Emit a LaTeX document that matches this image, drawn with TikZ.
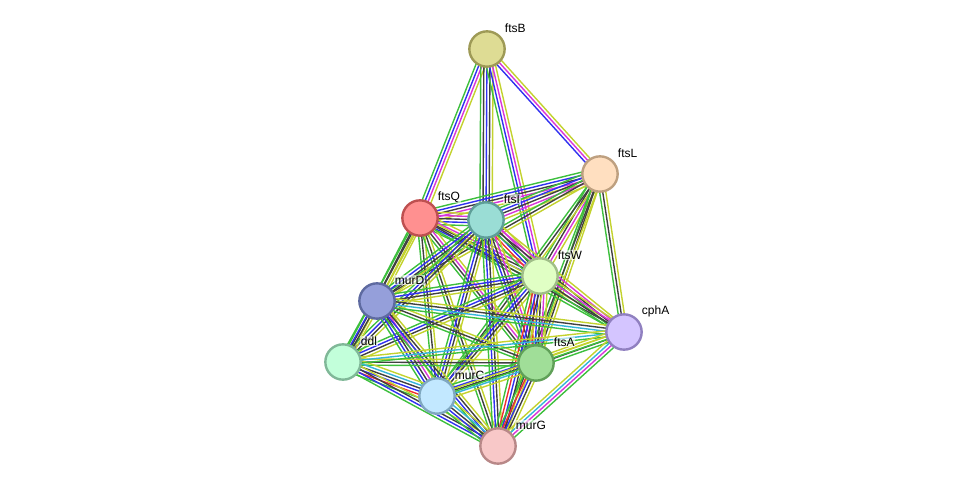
\documentclass[tikz,border=0pt]{standalone}
\usepackage{fontspec}
\setmainfont{Liberation Sans}
\usetikzlibrary{calc,backgrounds}

\definecolor{egreen}{HTML}{3DBF3D}
\definecolor{eblue}{HTML}{3030F0}
\definecolor{eblack}{HTML}{404040}
\definecolor{emag}{HTML}{D935D9}
\definecolor{eyel}{HTML}{C3D22E}
\definecolor{ered}{HTML}{F03030}
\definecolor{ecyan}{HTML}{35B5DA}

% parallel evidence lines between two proteins
\newcommand{\lnk}[3]{%
  \foreach \c [count=\n] in {#3} {\xdef\lnkn{\n}}%
  \foreach \c [count=\i] in {#3} {%
    \pgfmathsetmacro\off{(\i-(\lnkn+1)/2)*2.3}%
    \draw[\c, line width=1.05pt] ($(#1.center)!\off pt!90:(#2.center)$) -- ($(#2.center)!\off pt!-90:(#1.center)$);
  }%
}

\begin{document}
\begin{tikzpicture}[
  x=0.75pt, y=-0.75pt,
  prot/.style={circle, draw, line width=1.8pt, minimum size=26.5pt, inner sep=0pt},
  lbl/.style={font=\fontsize{9}{10}\selectfont, anchor=west, inner sep=0.5pt, fill=white, fill opacity=0.6, text opacity=1}
]
\useasboundingbox (0,0) rectangle (976,492);

% proteins
\node[prot, fill={rgb,255:red,222;green,220;blue,148}, draw={rgb,255:red,158;green,154;blue,86}] (ftsB) at (487,49) {};
\node[prot, fill={rgb,255:red,255;green,223;blue,192}, draw={rgb,255:red,190;green,160;blue,128}] (ftsL) at (600,174) {};
\node[prot, fill={rgb,255:red,255;green,144;blue,144}, draw={rgb,255:red,190;green,80;blue,80}] (ftsQ) at (420,218) {};
\node[prot, fill={rgb,255:red,154;green,221;blue,213}, draw={rgb,255:red,94;green,158;blue,152}] (ftsI) at (486,220) {};
\node[prot, fill={rgb,255:red,224;green,255;blue,196}, draw={rgb,255:red,160;green,190;blue,136}] (ftsW) at (540,276) {};
\node[prot, fill={rgb,255:red,149;green,159;blue,218}, draw={rgb,255:red,94;green,106;blue,160}] (murD) at (377,301) {};
\node[prot, fill={rgb,255:red,212;green,197;blue,255}, draw={rgb,255:red,144;green,128;blue,192}] (cphA) at (624,332) {};
\node[prot, fill={rgb,255:red,194;green,255;blue,218}, draw={rgb,255:red,128;green,184;blue,152}] (ddl) at (343,362) {};
\node[prot, fill={rgb,255:red,160;green,222;blue,152}, draw={rgb,255:red,96;green,160;blue,88}] (ftsA) at (536,363) {};
\node[prot, fill={rgb,255:red,194;green,232;blue,255}, draw={rgb,255:red,128;green,168;blue,192}] (murC) at (437,396) {};
\node[prot, fill={rgb,255:red,248;green,200;blue,200}, draw={rgb,255:red,184;green,136;blue,136}] (murG) at (498,446) {};

% names
\foreach \p in {ftsB,ftsL,ftsQ,ftsI,ftsW,murD,cphA,ddl,ftsA,murC,murG}
  \node[lbl] (\p-l) at ($(\p)+(17,-21)$) {\p};

% evidence
\begin{pgfonlayer}{background}
\lnk{ftsB}{ftsQ}{egreen,eblue,emag,eyel}
\lnk{ftsB}{ftsI}{egreen,eblack,eblue,eblack,eyel}
\lnk{ftsB}{ftsW}{egreen,eblue,emag,eyel}
\lnk{ftsB}{ftsL}{eblue,emag,eyel}
\lnk{ftsL}{ftsQ}{egreen,eblue,eblack,emag,eyel}
\lnk{ftsL}{ftsI}{egreen,eblue,eblack,emag,eyel}
\lnk{ftsL}{ftsW}{egreen,eblack,emag,eyel}
\lnk{ftsL}{cphA}{egreen,eblack,eyel}
\lnk{ftsL}{ftsA}{egreen,eblack,eyel}
\lnk{ftsL}{murD}{egreen,eblack,eyel}
\lnk{ftsL}{murC}{egreen,eblack,eyel}
\lnk{ftsL}{murG}{egreen,eblack,eyel}
\lnk{ftsQ}{ftsI}{egreen,eblue,eblack,emag,eyel}
\lnk{ftsQ}{ftsW}{egreen,eblue,eblack,emag,eyel}
\lnk{ftsQ}{murD}{egreen,eblack,eyel,eyel}
\lnk{ftsQ}{ddl}{egreen,eblack,eyel}
\lnk{ftsQ}{ftsA}{egreen,eblack,emag,eyel}
\lnk{ftsQ}{murC}{egreen,eblack,eyel}
\lnk{ftsQ}{murG}{egreen,eblack,eyel}
\lnk{ftsQ}{cphA}{egreen,eblack,eyel}
\lnk{ftsI}{ftsW}{egreen,ered,eblue,eblack,emag,eyel}
\lnk{ftsI}{murD}{egreen,eblue,eblack,eyel}
\lnk{ftsI}{ddl}{egreen,eblue,eblack,eyel}
\lnk{ftsI}{ftsA}{egreen,eblue,eblack,emag,eyel}
\lnk{ftsI}{murC}{egreen,eblue,eblack,eyel}
\lnk{ftsI}{murG}{egreen,eblue,eblack,eyel}
\lnk{ftsI}{cphA}{egreen,eblack,emag,eyel}
\lnk{ftsW}{murD}{egreen,eblue,eblack,eyel}
\lnk{ftsW}{ddl}{egreen,eblue,eblack,eyel}
\lnk{ftsW}{ftsA}{egreen,ered,eblue,eblack,emag,eyel}
\lnk{ftsW}{murC}{egreen,eblue,eblack,eyel}
\lnk{ftsW}{murG}{egreen,ered,eblue,eblack,eyel}
\lnk{ftsW}{cphA}{egreen,eblack,emag,eyel}
\lnk{murD}{ddl}{egreen,eblue,eblack,eyel}
\lnk{murD}{ftsA}{egreen,eblack,eyel}
\lnk{murD}{murC}{egreen,eblue,eblack,emag,eyel}
\lnk{murD}{murG}{egreen,eblue,eblack,eyel}
\lnk{murD}{cphA}{egreen,ecyan,eblack,eyel}
\lnk{ddl}{ftsA}{egreen,eblack,eyel}
\lnk{ddl}{murC}{egreen,ered,eblue,eblack,ecyan,eyel}
\lnk{ddl}{murG}{egreen,eblue,eblack,eyel}
\lnk{ddl}{cphA}{egreen,ecyan,eyel}
\lnk{ftsA}{murC}{egreen,eblue,eblack,ecyan,eyel}
\lnk{ftsA}{murG}{egreen,ered,eblue,eblack,eyel}
\lnk{ftsA}{cphA}{egreen,eblack,eyel,eyel}
\lnk{murC}{murG}{egreen,eblue,eblack,ecyan,eyel}
\lnk{murC}{cphA}{egreen,eyel}
\lnk{murG}{cphA}{egreen,emag,ecyan,eyel}
\end{pgfonlayer}
\end{tikzpicture}
\end{document}
